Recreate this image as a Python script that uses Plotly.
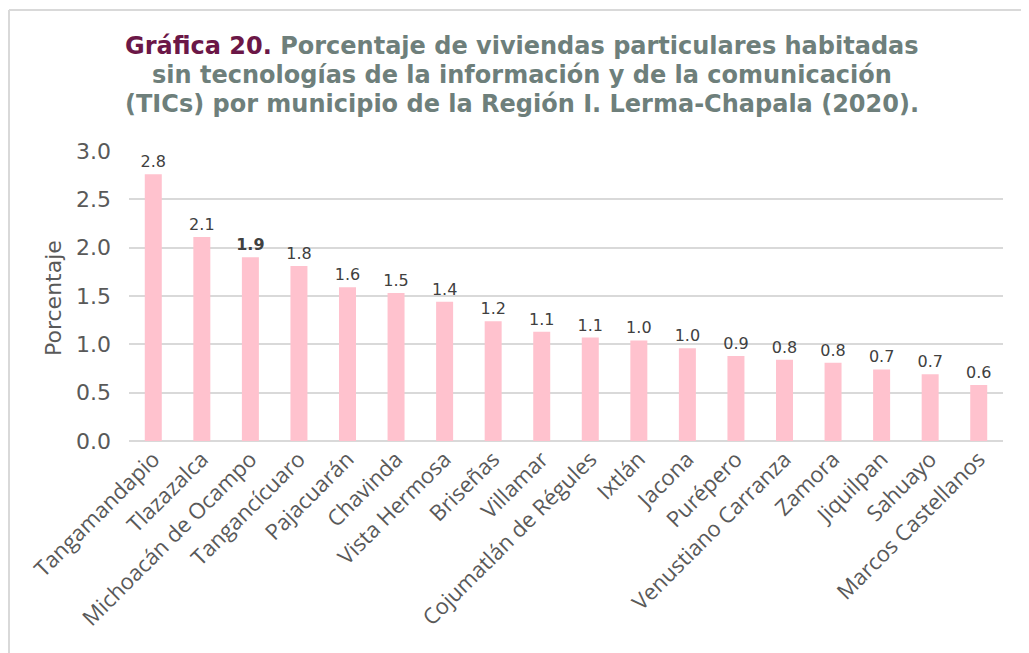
import plotly.graph_objects as go

municipios = ["Tangamandapio", "Tlazazalca", "Michoacán de Ocampo", "Tangancícuaro",
              "Pajacuarán", "Chavinda", "Vista Hermosa", "Briseñas", "Villamar",
              "Cojumatlán de Régules", "Ixtlán", "Jacona", "Purépero",
              "Venustiano Carranza", "Zamora", "Jiquilpan", "Sahuayo", "Marcos Castellanos"]
porcentaje = [2.76, 2.11, 1.90, 1.81, 1.59, 1.53, 1.44, 1.24, 1.13,
              1.07, 1.04, 0.96, 0.88, 0.84, 0.81, 0.74, 0.69, 0.58]
y_ticks = [0.0, 0.5, 1.0, 1.5, 2.0, 2.5, 3.0]
bold_index = 2
title_lines = [
    "<span style='color:#6B1747'>Gráfica 20.</span> Porcentaje de viviendas particulares habitadas",
    "sin tecnologías de la información y de la comunicación",
    "(TICs) por municipio de la Región I. Lerma-Chapala (2020).",
]

labels = []
for i, v in enumerate(porcentaje):
    s = f"{v:.1f}"
    labels.append(f"<b>{s}</b>" if i == bold_index else s)

fig = go.Figure(go.Bar(
    x=municipios, y=porcentaje, text=labels, textposition="outside",
    constraintext="none",
    textfont=dict(family="DejaVu Sans", size=16, color="#404040"),
    marker=dict(color="#FFC2CE", line=dict(width=0)),
    cliponaxis=False,
))

OFF = 8  # page offset of the figure in the browser
W, H = 1029, 653
X0, X1, Y0, Y1 = 129, 1003, 151, 441
L, R, T, B = X0 - OFF, W - (X1 - OFF), Y0 - OFF, H - (Y1 - OFF)
pw, ph = X1 - X0, Y1 - Y0

def px(x):
    return (x - X0) / pw

def py(y):
    return (Y1 - y) / ph

annotations = []
for k, line in enumerate(title_lines):
    annotations.append(dict(
        xref="paper", yref="paper", x=px(522), y=py(46 + 29 * k), xanchor="center", yanchor="middle",
        showarrow=False, align="center", text=line,
        font=dict(family="DejaVu Sans", size=24, color="#6E7F7B", weight="bold"),
    ))
annotations.append(dict(
    xref="paper", yref="paper", x=px(53), y=py(298), xanchor="center", yanchor="middle",
    showarrow=False, textangle=-90, text="Porcentaje",
    font=dict(family="DejaVu Sans", size=22, color="#595959"),
))

fig.update_layout(
    width=W, height=H,
    margin=dict(l=L, r=R, t=T, b=B),
    paper_bgcolor="white", plot_bgcolor="white",
    bargap=0.65, showlegend=False,
    xaxis=dict(tickangle=-45, tickfont=dict(family="Open Sans", size=22, color="#595959"),
               showgrid=False, showline=False, ticks="", automargin=False),
    yaxis=dict(range=[0, 3.0], tickvals=y_ticks, tickformat=".1f",
               tickfont=dict(family="DejaVu Sans", size=22, color="#595959"),
               ticklabelstandoff=17,
               gridcolor="#D9D9D9", gridwidth=2, zeroline=True, zerolinecolor="#D9D9D9",
               zerolinewidth=2, showline=False, ticks="", automargin=False),
    annotations=annotations,
    shapes=[
        dict(type="line", xref="paper", yref="paper", x0=px(9), x1=px(9), y0=py(10), y1=py(700),
             line=dict(color="#D9D9D9", width=2)),
        dict(type="line", xref="paper", yref="paper", x0=px(9), x1=px(1100), y0=py(10), y1=py(10),
             line=dict(color="#D9D9D9", width=2)),
    ],
)

fig.write_html("out.html")
